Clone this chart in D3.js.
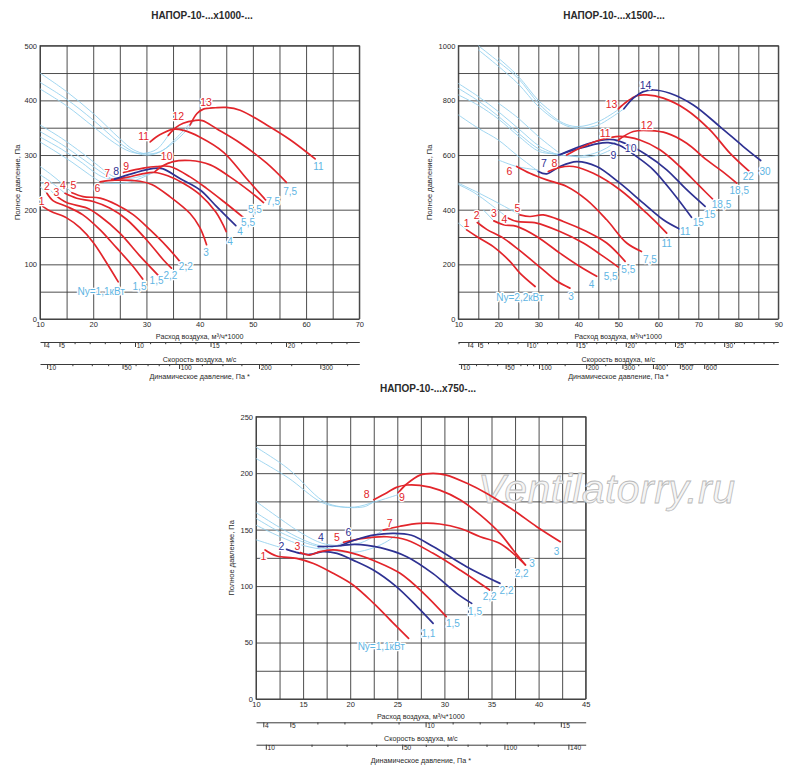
<!DOCTYPE html>
<html>
<head>
<meta charset="utf-8">
<script src="https://cdnjs.cloudflare.com/ajax/libs/d3/7.8.5/d3.min.js"></script>
<style>
  body { margin: 0; background: #fff; }
</style>
</head>
<body>
<div id="chart"></div>
<script>

//################################  DATA  ################################

// Panel 1 : НАПОР-10-...х1000-...  (Q, 1000 m3/h ; P, Pa)
var p1FanCurves = [
  [[10.5,206],[12,197],[15,185],[17.5,167],[20,140],[22.5,103],[24.7,68]],
  [[11.3,230],[12.5,216],[15,206],[18,191],[21.3,163],[24.4,130],[27.5,96],[29.3,73]],
  [[12.8,227],[15,213],[18.8,203],[21.3,188],[25,157],[28.8,115],[32.4,78]],
  [[14.7,230],[16.9,221],[20,215],[23.1,203],[26.3,182],[30,145],[33.2,108],[34.7,93]],
  [[16,231],[18.1,224],[21.3,221],[24.4,209],[27.5,191],[30.7,163],[33.8,133],[36.3,105]],
  [[21.3,251],[24,254],[28.8,252],[31,246],[34.4,224],[38.2,193],[40,168],[41.3,136]],
  [[23.5,255.5],[26.3,259],[29.4,266],[31.5,268],[34,262],[37,248],[40,228],[43,196],[45,160]],
  [[24,256],[27.5,266.5],[31.3,275.5],[33,275],[36.3,257],[40.1,236],[43.2,205.5],[46.8,171]],
  [[25.7,268],[29.4,276],[31.9,279],[34.4,279],[38.2,260],[41.3,239],[44.5,215],[48.2,186]],
  [[31.6,269.5],[33,280],[35,288],[38.2,290],[42,282],[45.7,260],[49.5,233],[52,213]],
  [[30.7,324],[32.5,337],[35,347],[37,345],[40,333],[44.5,305],[48.8,257],[52.4,218]],
  [[34.1,336],[35.5,350],[36.9,358],[39,363],[40.5,363],[43.2,348],[47.6,322],[52.6,285],[56.3,250]],
  [[38.2,355],[39.5,376],[40.7,384],[43,386.5],[45,387],[47.6,382],[52.6,355],[57,328],[61.7,293]]
];
var p1Power = ['Ny=1,1кВт','1,5','1,5','2,2','2,2','3','4','4','5,5','5,5','7,5','7,5','11'];
var p1Navy = [8];
var p1StartLabelAt = [[10.3,215],[11.3,242],[13.1,231],[14.3,245],[16.3,244],[20.8,239],[22.6,267],
  [24.3,270],[26.2,279],[33.8,297],[29.5,334],[36,371.5],[41.2,396]];
var p1EndLabelAt = [[21.5,50],[28.7,59.7],[31.9,70.6],[34.5,79.2],[37.4,96.2],[41.2,121.8],[45.7,141.9],
  [47.6,160.2],[49.1,176.6],[50.4,199.8],[53.8,215],[57,233.3],[62.3,279]];
var p1Bands = [
  [[10,450],[15,416],[20,376],[25,330],[27.5,310],[30,302],[32.5,306],[35,322],[37.5,345],[39,364]],
  [[10,433],[15,402],[20,364],[25,322],[28,304],[30.5,300],[33,308],[35.5,330],[38,356]],
  [[10,421],[15,390],[20,352],[24,322],[27,306],[29.5,303],[32,311],[34.1,336]],
  [[10,355],[14,331],[18,303],[21,280],[23,265],[24.5,258],[26,256.5],[28,259],[30,264],[31.6,269.5]],
  [[10,343],[14,320],[18,293],[21,272],[23.5,256]],
  [[10,333],[14,311],[18,285],[20,270],[22,259],[24,256]],
  [[10,324],[13,306],[16,287],[19,266],[21.3,251]],
  [[22,249],[24,248],[26,249],[28,254],[30,262],[31.6,269.5]],
  [[10,279],[12,265],[14,249],[16,231]],
  [[10,264],[12,251],[14.7,230]],
  [[10,252],[11.5,240],[12.8,227]],
  [[10,242],[11.3,230]]
];
var p1VelTicks = [4,5,10,15,20];
var p1DynTicks = [10,50,100,200,300];
var p1DynMinor = [20,30,40,60,70,80,90,125,150,175,250,350];

// Panel 2 : НАПОР-10-...х1500-...
var p2FanCurves = [
  [[12.1,326],[14.6,302],[18.75,265],[22.9,211],[25.4,168],[29.2,119]],
  [[14.75,353],[17.1,328],[21.25,296],[25.4,250],[30.4,190],[34.5,140],[37.9,113]],
  [[18.9,359],[21.25,345],[24.6,339],[29.6,302],[35.4,241],[40.4,192],[44.6,156]],
  [[22.5,369],[24.6,357],[29.6,351],[35.4,320],[41.25,278],[46.25,229],[50,190]],
  [[25.4,381],[27.9,375],[31.25,381],[36.25,357],[42.1,320],[47.1,278],[51.7,211]],
  [[24.6,558],[27.9,533],[32.1,509],[37.1,485],[42.1,436],[47.1,363],[52.1,278],[55.8,247]],
  [[30,540],[32.1,531],[35.4,558],[39.6,576],[44.6,558],[50.4,497],[56.25,424],[61.25,363],[65.2,330]],
  [[32.5,540],[35.4,555],[38.75,558],[43.75,533],[50.4,473],[57.1,387],[62.1,314]],
  [[35,600],[39.6,621],[44.6,641],[47.5,645],[50.4,635],[54.6,594],[58.75,546],[63.75,460],[68.3,372]],
  [[35.8,604],[40.4,631],[45.4,653],[48.75,656],[52.1,640],[57.1,600],[62.1,546],[67.1,473],[71.7,412]],
  [[37.1,600],[41.25,631],[45.4,655],[50.4,668],[55.4,655],[60.4,619],[65.4,558],[70.4,485],[74.2,430]],
  [[50,655],[53.75,686],[57.9,689],[62.1,680],[67.1,643],[72.1,582],[76,540],[79.6,497]],
  [[50,769],[52.1,795],[54.6,817],[57.1,820],[61.25,808],[67.1,765],[72.9,692],[77.9,607],[82.75,540]],
  [[51.4,769],[53.75,808],[56.25,832],[58.75,838],[62.9,826],[68.75,783],[75.4,704],[81.25,631],[85.6,580]]
];
var p2Power = ['Ny=2,2кВт','3','4','5,5','5,5','7,5','11','11','15','15','18,5','18,5','22','30'];
var p2Navy = [7,9,10,14];
var p2StartLabelAt = [[12.1,351],[14.6,381],[18.9,387],[21.5,365],[24.8,405.6],[22.75,542],[31.4,570],
  [34,570],[48.75,600.5],[53.1,625],[46.7,680],[57.1,710],[48.3,787],[56.8,856]];
var p2EndLabelAt = [[25.4,79],[38.2,83],[43.3,125.5],[48.1,156],[52.5,180],[57.9,217],[66.7,320],
  [62.1,277.7],[70,353],[72.9,381],[75.8,418],[80.25,469],[82.5,521],[86.7,540]];
var p2Bands = [
  [[15,1000],[20,942],[25,880],[30,790],[34.2,735],[37,712],[40,704],[45,722],[50,766]],
  [[15,985],[20,925],[25,860],[30,778],[34.5,726],[38,702],[41,698],[45,710],[48,735],[51.4,769]],
  [[20,955],[25,888],[30,800],[33,762]],
  [[10,862],[15,814],[20,759],[25.4,692],[30.4,631],[35,600]],
  [[10,844],[15,798],[20,742],[25.4,675],[30.4,620],[35,600]],
  [[10,820],[15,782],[20,732],[25.4,665],[30.4,612],[35.8,604]],
  [[20,790],[25,735],[30,668],[35,610]],
  [[10,747],[15,698],[20,655],[24.6,600],[30,540]],
  [[20,582],[24.6,558],[30,545]],
  [[35,600],[40,596],[44,606],[47,625],[50,655]],
  [[37.1,600],[41,592],[45,600],[48,618]],
  [[10,497],[15,462],[20,424],[25.4,381]],
  [[10,492],[14,462],[18,420],[22.5,369]],
  [[16.2,400],[18.9,359]],
  [[10,351],[12.1,326]]
];
var p2VelTicks = [4,5,10,15,20,25,30];
var p2DynTicks = [10,50,100,200,300,400,500,600];
var p2DynMinor = [20,30,40,60,70,80,90,150,250,350,450,550,650];

// Panel 3 : НАПОР-10-...х750-...
var p3FanCurves = [
  [[10.96,132],[12.2,126.6],[14.3,124.6],[16.1,120],[18.2,111.3],[20.3,101],[22.5,84.7],[24.6,67],[26.2,53.7]],
  [[13.25,132.5],[14.7,129],[15.7,128],[17.1,130.5],[18.6,129],[20.3,123],[22.5,114],[24.9,99.5],[27.1,81.8],[28.8,67]],
  [[14.7,129.6],[15.7,127.5],[16.8,130.5],[18.2,132],[20.3,129],[22.8,121.6],[25.3,111.3],[27.8,93.6],[30.2,73]],
  [[16.6,135],[18.7,135.5],[20.5,137],[23.2,134],[26,126],[28.8,111],[31.3,93.6],[32.9,84.7]],
  [[19.3,138.8],[21.4,142.3],[23.9,143.7],[26,140.8],[28.8,129],[31.7,114],[34.8,96.5]],
  [[19,136],[20.5,140.8],[22.6,145.3],[24.6,146.7],[26.5,145],[28.8,135],[32.4,117],[35.9,102.4]],
  [[23.5,149.6],[25.3,153],[27.4,155.5],[29.5,155],[31.7,151],[33.8,143.7],[35.9,137.8],[37.3,129],[38.6,118.7]],
  [[22.5,176.5],[23.9,182.7],[24.9,187.4],[26,189.5],[27.4,189.2],[29.5,185],[31.7,176.2],[33.8,163],[35.9,146.7],[37.3,132],[38.6,118.7]],
  [[25.1,182.7],[26,190.4],[27.4,198.3],[28.8,199.8],[30.2,198.3],[32.4,191],[34.5,182],[37.3,167.4],[39.8,152.6],[42.3,139.3]]
];
var p3Power = ['Ny=1,1кВт','1,1','1,5','1,5','2,2','2,2','2,2','3','3'];
var p3Navy = [2,4,6];
var p3StartLabelAt = [[10.8,126],[12.7,135],[14.4,135.5],[16.9,143],[18.6,143],[19.8,148],[24.2,155.5],
  [21.75,181.5],[25.5,179]];
var p3EndLabelAt = [[23.3,46.3],[28.3,58],[30.9,67],[33.25,77.3],[34.8,90.6],[36.6,96.5],[38.2,111.3],
  [39.3,120.1],[41.9,130.5]];
var p3Bands = [
  [[10,223],[13.4,204],[17,176],[18.5,171],[20.5,170],[22.6,174.5],[25.1,181]],
  [[10,213],[13.4,196],[17,174],[19.1,170],[21.6,170.5],[22.5,175]],
  [[10,175],[12.5,160],[15,146],[17,138],[18.5,136],[20,136.5],[21.5,139.5],[23.5,149.6]],
  [[10,165],[12.5,152],[15,141],[17,135.5],[19,136]],
  [[10,160],[12.5,148],[15,139],[16.6,135]],
  [[10,154],[12.5,144],[15,136],[17.5,133],[19.3,138.8]],
  [[10,141],[11.7,136.5],[13.25,132.5]],
  [[16.5,136],[18.5,131],[20.5,130],[22.5,134],[24,140],[25,146]]
];
var p3VelTicks = [4,5,10,15];
var p3DynTicks = [10,50,100,140];
var p3DynMinor = [20,30,40,60,70,80,90,120];

//################################  CHART  ################################

// Exposed variables
var attrs = {
  svgWidth: 800,
  svgHeight: 782,
  red: '#e2252b',
  navy: '#2e3192',
  band: '#96d1ee',
  powerText: '#5fb5e3',
  grid: '#3a3a3a',
  text: '#2a2a2a',
  font: "'Liberation Sans Narrow','Arial Narrow','Liberation Sans',Arial,sans-serif",
  titleFont: "'Liberation Sans',Arial,sans-serif"
};

// Panel layouts
var panels = [
  { title: 'НАПОР-10-...х1000-...', titleX: 202, titleY: 19,
    left: 40, right: 359.3, top: 45.7, bottom: 319,
    xDomain: [10, 70], yDomain: [0, 500], xGrid: 5, yGrid: 50, xLab: 10, yLab: 100, yTitleDx: 20,
    vel: [3.71, 24.85], dyn: [7.8, 374], velTicks: p1VelTicks, dynTicks: p1DynTicks, dynMinor: p1DynMinor,
    curves: p1FanCurves, power: p1Power, navy: p1Navy, startAt: p1StartLabelAt, endAt: p1EndLabelAt, bands: p1Bands,
    axisDy: [10, 20, 23, 43, 45, 60] },
  { title: 'НАПОР-10-...х1500-...', titleX: 614, titleY: 19,
    left: 458.3, right: 778.3, top: 45.7, bottom: 319,
    xDomain: [10, 90], yDomain: [0, 1000], xGrid: 5, yGrid: 100, xLab: 10, yLab: 200, yTitleDx: 26,
    vel: [2.98, 35.5], dyn: [8.5, 961], velTicks: p2VelTicks, dynTicks: p2DynTicks, dynMinor: p2DynMinor,
    curves: p2FanCurves, power: p2Power, navy: p2Navy, startAt: p2StartLabelAt, endAt: p2EndLabelAt, bands: p2Bands,
    axisDy: [10, 20, 23, 43, 45, 60] },
  { title: 'НАПОР-10-...х750-...', titleX: 428, titleY: 392,
    left: 256, right: 585.7, top: 416.7, bottom: 699,
    xDomain: [10, 45], yDomain: [0, 250], xGrid: 2.5, yGrid: 25, xLab: 5, yLab: 50, yTitleDx: 22,
    vel: [3.73, 15.92], dyn: [8.3, 152], velTicks: p3VelTicks, dynTicks: p3DynTicks, dynMinor: p3DynMinor,
    curves: p3FanCurves, power: p3Power, navy: p3Navy, startAt: p3StartLabelAt, endAt: p3EndLabelAt, bands: p3Bands,
    axisDy: [9.5, 19.5, 23.3, 41.5, 45.7, 64], watermark: true }
];

//Add svg
var svg = d3.select('#chart').append('svg')
  .attr('width', attrs.svgWidth)
  .attr('height', attrs.svgHeight)
  .style('font-family', attrs.font);

panels.forEach(function (cfg) { drawPanel(svg, cfg); });

function drawPanel(svg, cfg) {

  //Scales
  var x = d3.scaleLinear().domain(cfg.xDomain).range([cfg.left, cfg.right]);
  var y = d3.scaleLinear().domain(cfg.yDomain).range([cfg.bottom, cfg.top]);
  var vel = d3.scaleLinear().domain(cfg.vel).range([cfg.left, cfg.right]);
  var dyn = d3.scaleSqrt().domain(cfg.dyn).range([cfg.left, cfg.right]);
  var midX = (cfg.left + cfg.right) / 2;
  var dy = cfg.axisDy;

  var g = svg.append('g').attr('class', 'panel');

  //Title
  g.append('text')
    .attr('x', cfg.titleX).attr('y', cfg.titleY)
    .attr('text-anchor', 'middle')
    .attr('font-family', attrs.titleFont)
    .attr('font-weight', 'bold')
    .attr('font-size', 10)
    .attr('fill', attrs.text)
    .text(cfg.title);

  //Grid
  var plotH = cfg.bottom - cfg.top, plotW = cfg.right - cfg.left;
  g.append('g').attr('transform', 'translate(0,' + cfg.bottom + ')')
    .call(d3.axisBottom(x).tickValues(d3.range(cfg.xDomain[0], cfg.xDomain[1] + 1e-6, cfg.xGrid))
      .tickSize(-plotH).tickFormat(''))
    .call(gridStyle);
  g.append('g').attr('transform', 'translate(' + cfg.left + ',0)')
    .call(d3.axisLeft(y).tickValues(d3.range(cfg.yDomain[0], cfg.yDomain[1] + 1e-6, cfg.yGrid))
      .tickSize(-plotW).tickFormat(''))
    .call(gridStyle);
  g.append('rect')
    .attr('x', cfg.left).attr('y', cfg.top)
    .attr('width', plotW).attr('height', plotH)
    .attr('fill', 'none').attr('stroke', attrs.grid).attr('stroke-width', 1);

  //Tick labels
  g.append('g').attr('transform', 'translate(0,' + cfg.bottom + ')')
    .call(d3.axisBottom(x).tickValues(d3.range(cfg.xDomain[0], cfg.xDomain[1] + 1e-6, cfg.xLab))
      .tickSize(0).tickPadding(3).tickFormat(d3.format('d')))
    .call(labelStyle);
  g.append('g').attr('transform', 'translate(' + cfg.left + ',0)')
    .call(d3.axisLeft(y).tickValues(d3.range(cfg.yDomain[0], cfg.yDomain[1] + 1e-6, cfg.yLab))
      .tickSize(0).tickPadding(3).tickFormat(d3.format('d')))
    .call(labelStyle);

  //Y title
  g.append('text')
    .attr('transform', 'translate(' + (cfg.left - cfg.yTitleDx) + ',' + (cfg.top + plotH / 2) + ') rotate(-90)')
    .attr('text-anchor', 'middle')
    .attr('font-size', 7.5)
    .attr('fill', attrs.text)
    .text('Полное давление, Па');

  //Watermark
  if (cfg.watermark) {
    g.append('text')
      .attr('x', 478).attr('y', 503)
      .attr('font-family', attrs.titleFont)
      .attr('font-style', 'italic')
      .attr('font-size', 41)
      .attr('textLength', 257)
      .attr('fill', '#f4f4f4').attr('fill-opacity', 0.9)
      .attr('stroke', '#b9b9b9').attr('stroke-width', 0.8)
      .text('Ventilatorry.ru');
  }

  //Line generator
  var line = d3.line()
    .x(function (d) { return x(d[0]); })
    .y(function (d) { return y(d[1]); })
    .curve(d3.curveCatmullRom.alpha(0.5));

  //Light blue band lines
  g.append('g').selectAll('path').data(cfg.bands).enter().append('path')
    .attr('d', line)
    .attr('fill', 'none')
    .attr('stroke', attrs.band)
    .attr('stroke-width', 0.9);

  //Fan curves
  var colorOf = function (i) { return cfg.navy.indexOf(i + 1) >= 0 ? attrs.navy : attrs.red; };
  g.append('g').selectAll('path').data(cfg.curves).enter().append('path')
    .attr('d', line)
    .attr('fill', 'none')
    .attr('stroke', function (d, i) { return colorOf(i); })
    .attr('stroke-width', 1.7)
    .attr('stroke-linecap', 'round');

  //Curve numbers
  g.append('g').selectAll('text').data(cfg.startAt).enter().append('text')
    .attr('x', function (d) { return x(d[0]); })
    .attr('y', function (d) { return y(d[1]); })
    .attr('dy', '0.35em')
    .attr('text-anchor', 'middle')
    .attr('font-size', 10.5)
    .attr('fill', function (d, i) { return colorOf(i); })
    .call(halo)
    .text(function (d, i) { return i + 1; });

  //Motor power
  g.append('g').selectAll('text').data(cfg.endAt).enter().append('text')
    .attr('x', function (d) { return x(d[0]); })
    .attr('y', function (d) { return y(d[1]); })
    .attr('dy', '0.35em')
    .attr('text-anchor', 'middle')
    .attr('font-size', 10)
    .attr('fill', attrs.powerText)
    .call(halo)
    .text(function (d, i) { return cfg.power[i]; });

  //Flow title
  axisTitle(g, midX, cfg.bottom + dy[1], 'Расход воздуха, м³/ч*1000');

  //Velocity axis
  var velMinor = d3.range(Math.ceil(cfg.vel[0]), Math.floor(cfg.vel[1]) + 1)
    .filter(function (v) { return cfg.velTicks.indexOf(v) < 0; });
  secondaryAxis(g, vel, cfg.bottom + dy[2], cfg.velTicks, velMinor);
  axisTitle(g, midX, cfg.bottom + dy[3], 'Скорость воздуха, м/с');

  //Dynamic pressure axis
  secondaryAxis(g, dyn, cfg.bottom + dy[4], cfg.dynTicks, cfg.dynMinor);
  axisTitle(g, midX, cfg.bottom + dy[5], 'Динамическое давление, Па *');
}

//#########################################  UTIL FUNCS ##################################

function gridStyle(s) {
  s.select('.domain').remove();
  s.selectAll('line').attr('stroke', attrs.grid).attr('stroke-width', 0.9);
}

function labelStyle(s) {
  s.select('.domain').remove();
  s.attr('font-family', attrs.font).attr('font-size', 7.5);
  s.selectAll('text').attr('fill', attrs.text);
}

function halo(s) {
  s.attr('stroke', '#fff')
    .attr('stroke-width', 2.6)
    .attr('stroke-linejoin', 'round')
    .attr('paint-order', 'stroke');
}

function axisTitle(g, x, y, txt) {
  g.append('text')
    .attr('x', x).attr('y', y)
    .attr('text-anchor', 'middle')
    .attr('font-size', 7.2)
    .attr('fill', attrs.text)
    .text(txt);
}

function secondaryAxis(g, scale, yPos, major, minor) {
  g.append('g').attr('transform', 'translate(0,' + yPos + ')')
    .call(d3.axisBottom(scale).tickValues(minor).tickSize(2.2).tickSizeOuter(0).tickFormat(''))
    .attr('color', attrs.grid);
  g.append('g').attr('transform', 'translate(0,' + yPos + ')')
    .call(d3.axisBottom(scale).tickValues(major).tickSize(5).tickFormat(d3.format('d')))
    .attr('color', attrs.grid)
    .call(function (s) {
      s.select('.domain').remove();
      s.attr('font-family', attrs.font).attr('font-size', 6.6);
      s.selectAll('text').attr('text-anchor', 'start').attr('x', 1.2).attr('y', 0.8).attr('fill', attrs.text);
    });
}

</script>
</body>
</html>
